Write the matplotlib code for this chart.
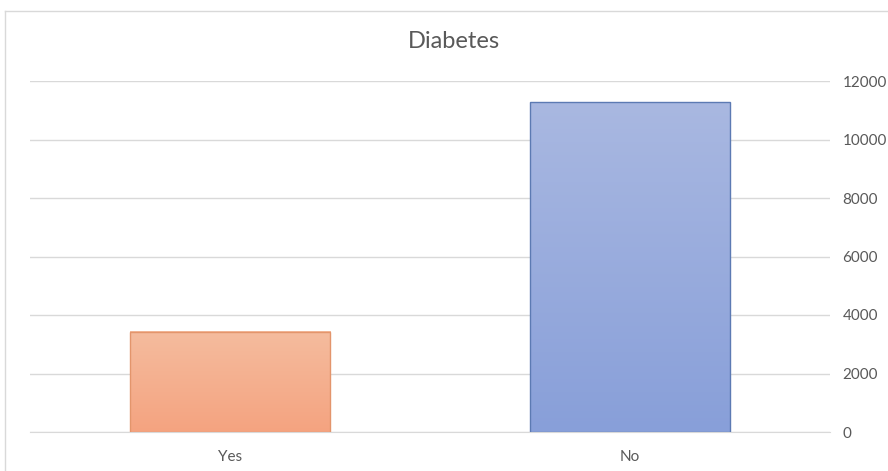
import numpy as np
import matplotlib.pyplot as plt
from matplotlib.colors import LinearSegmentedColormap
from matplotlib.lines import Line2D

plt.rcParams['font.family'] = ['Lato', 'DejaVu Sans']

# data
categories = ["Yes", "No"]
counts = [3420, 11280]
top_colors = ["#F5BC9E", "#A9B8E1"]
bottom_colors = ["#F4A380", "#889FD9"]
edge_colors = ["#E3956C", "#5C7AB3"]
yticks = [0, 2000, 4000, 6000, 8000, 10000, 12000]

fig = plt.figure(figsize=(8.88, 4.71), dpi=100)
ax = fig.add_axes([30/888, 1-432/471, 800/888, 351/471])

# chart border (excel-style frame, cropped on the right and bottom)
fig.add_artist(Line2D([5/888, 1], [1-11/471, 1-11/471], color="#D9D9D9", lw=1))
fig.add_artist(Line2D([5/888, 5/888], [0, 1-11/471], color="#D9D9D9", lw=1))

width = 0.5
grad = np.linspace(1, 0, 256).reshape(-1, 1)
for i, (cat, v) in enumerate(zip(categories, counts)):
    cmap = LinearSegmentedColormap.from_list("g%d" % i, [bottom_colors[i], top_colors[i]])
    ax.imshow(grad, cmap=cmap, extent=[i - width/2, i + width/2, 0, v],
              aspect="auto", zorder=2, vmin=0, vmax=1)
    ax.bar(i, v, width=width, fill=False, edgecolor=edge_colors[i], lw=1, zorder=3)

ax.set_xlim(-0.5, 1.5)
ax.set_ylim(0, 12000)
ax.set_xticks(range(len(categories)))
ax.set_xticklabels(categories)
ax.set_yticks(yticks)
ax.yaxis.tick_right()
ax.tick_params(axis="both", length=0, labelsize=11, labelcolor="#595959")
ax.tick_params(axis="y", pad=9)
ax.tick_params(axis="x", pad=13)
ax.grid(axis="y", color="#D9D9D9", lw=1, zorder=0)
ax.set_axisbelow(True)
for s in ["top", "left", "right"]:
    ax.spines[s].set_visible(False)
ax.spines["bottom"].set_color("#D9D9D9")

fig.text(454/888, 1-42/471, "Diabetes", ha="center", va="center",
         fontsize=17, color="#595959")

fig.savefig("out.png", dpi=100)
